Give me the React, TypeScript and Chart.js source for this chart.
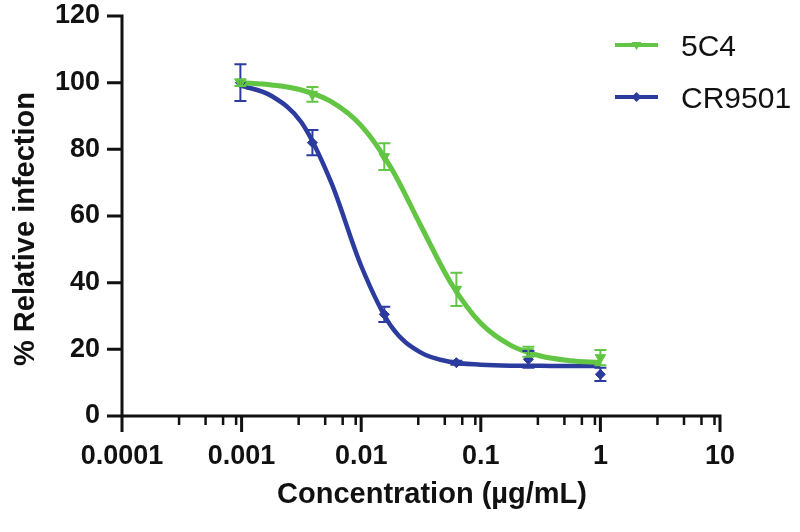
import React, { useEffect, useRef } from 'react';
import { Chart, registerables } from 'chart.js';

Chart.register(...registerables);

// ---- data ----
const concentrations = [0.000977, 0.00391, 0.0156, 0.0625, 0.25, 1];
const mean5C4 = [100, 96.5, 77.8, 38, 19.3, 17.5];
const err5C4 = [1, 2.2, 4, 5, 1.5, 2.3];
const meanCR9501 = [100, 82, 30.5, 16, 17, 12.5];
const errCR9501 = [5.5, 3.8, 2.3, 0.6, 2.5, 2];

// fitted curves
const curveX = [0.000977, 0.00178, 0.00316, 0.00562, 0.01, 0.0178, 0.0316, 0.0562, 0.1, 0.178, 0.316, 0.562, 1];
const curve5C4 = [100, 99.3, 97.8, 94.3, 87.1, 74.4, 57.0, 39.9, 27.8, 21.2, 18.0, 16.6, 16.0];
const curveCR9501 = [99.2, 96, 88.1, 70, 45, 26.9, 19, 16.2, 15.4, 15.1, 15.05, 15, 15];

const xTickValues = [0.0001, 0.001, 0.01, 0.1, 1, 10];
const xTickLabels = ['0.0001', '0.001', '0.01', '0.1', '1', '10'];
const xMinorMultipliers = [3, 5, 7, 9];
const yTickValues = [0, 20, 40, 60, 80, 100, 120];

const seriesNames = ['5C4', 'CR9501'];
const seriesColors = ['#62C544', '#2C3B9E'];
const xTitle = 'Concentration (µg/mL)';
const yTitle = '% Relative infection';

const FONT = '"Liberation Sans", Arial, Helvetica, sans-serif';

const toXY = (xs: number[], ys: number[]) => xs.map((x, i) => ({ x, y: ys[i] }));

const axesPlugin = {
  id: 'prismAxes',
  afterDraw(chart: any) {
    const { ctx, chartArea } = chart;
    const xs = chart.scales.x;
    const ys = chart.scales.y;
    const { left, right, top, bottom } = chartArea;
    ctx.save();
    ctx.strokeStyle = '#111';
    ctx.lineCap = 'butt';
    ctx.lineWidth = 3;
    ctx.beginPath();
    ctx.moveTo(left, top - 1.5);
    ctx.lineTo(left, bottom + 1.5);
    ctx.moveTo(left - 1.5, bottom);
    ctx.lineTo(right + 1.5, bottom);
    yTickValues.forEach((v) => {
      const y = ys.getPixelForValue(v);
      ctx.moveTo(left - 15, y);
      ctx.lineTo(left, y);
    });
    xTickValues.forEach((v) => {
      const x = xs.getPixelForValue(v);
      ctx.moveTo(x, bottom);
      ctx.lineTo(x, bottom + 16);
    });
    ctx.stroke();
    ctx.lineWidth = 2.5;
    ctx.beginPath();
    xTickValues.slice(0, -1).forEach((d) => {
      xMinorMultipliers.forEach((m) => {
        const x = xs.getPixelForValue(d * m);
        ctx.moveTo(x, bottom);
        ctx.lineTo(x, bottom + 9);
      });
    });
    ctx.stroke();

    // axis titles
    ctx.fillStyle = '#111';
    ctx.font = `bold 29px ${FONT}`;
    ctx.textAlign = 'center';
    ctx.textBaseline = 'middle';
    ctx.fillText(xTitle, (left + right) / 2 + 11, 495);
    ctx.translate(25.5, (top + bottom) / 2 + 13);
    ctx.rotate(-Math.PI / 2);
    ctx.fillText(yTitle, 0, 0);
    ctx.restore();
  },
};

const errorBarPlugin = {
  id: 'errorBars',
  afterDatasetsDraw(chart: any) {
    const { ctx } = chart;
    const xs = chart.scales.x;
    const ys = chart.scales.y;
    const sets = [
      { mean: meanCR9501, err: errCR9501, color: seriesColors[1] },
      { mean: mean5C4, err: err5C4, color: seriesColors[0] },
    ];
    ctx.save();
    sets.forEach((s) => {
      ctx.strokeStyle = s.color;
      ctx.lineWidth = 2;
      ctx.beginPath();
      concentrations.forEach((c, i) => {
        const x = xs.getPixelForValue(c);
        const yTop = ys.getPixelForValue(s.mean[i] + s.err[i]);
        const yBot = ys.getPixelForValue(s.mean[i] - s.err[i]);
        ctx.moveTo(x, yTop);
        ctx.lineTo(x, yBot);
        ctx.moveTo(x - 6, yTop);
        ctx.lineTo(x + 6, yTop);
        ctx.moveTo(x - 6, yBot);
        ctx.lineTo(x + 6, yBot);
      });
      ctx.stroke();
    });
    ctx.restore();
  },
};

const legendPlugin = {
  id: 'prismLegend',
  afterDraw(chart: any) {
    const { ctx } = chart;
    const rows = [45, 97];
    ctx.save();
    seriesNames.forEach((name, i) => {
      const y = rows[i];
      const color = seriesColors[i];
      ctx.strokeStyle = color;
      ctx.fillStyle = color;
      ctx.lineWidth = 4;
      ctx.beginPath();
      ctx.moveTo(615, y);
      ctx.lineTo(658, y);
      ctx.stroke();
      ctx.beginPath();
      const cx = 636.5;
      if (i === 0) {
        ctx.moveTo(cx - 5, y - 3);
        ctx.lineTo(cx + 5, y - 3);
        ctx.lineTo(cx, y + 5);
      } else {
        ctx.moveTo(cx, y - 5);
        ctx.lineTo(cx + 5, y);
        ctx.lineTo(cx, y + 5);
        ctx.lineTo(cx - 5, y);
      }
      ctx.closePath();
      ctx.fill();
      ctx.fillStyle = '#111';
      ctx.font = `30px ${FONT}`;
      ctx.textAlign = 'left';
      ctx.textBaseline = 'middle';
      ctx.fillText(name, 681, y + 3);
    });
    ctx.restore();
  },
};

export default function App() {
  const canvasRef = useRef<HTMLCanvasElement | null>(null);

  useEffect(() => {
    const canvas = canvasRef.current;
    if (!canvas) return;
    const chart = new Chart(canvas, {
      type: 'scatter',
      data: {
        datasets: [
          {
            label: seriesNames[0] + ' points',
            data: toXY(concentrations, mean5C4),
            showLine: false,
            pointStyle: 'triangle',
            rotation: 180,
            pointRadius: 6,
            backgroundColor: seriesColors[0],
            borderColor: seriesColors[0],
            borderWidth: 1,
          },
          {
            label: seriesNames[1] + ' points',
            data: toXY(concentrations, meanCR9501),
            showLine: false,
            pointStyle: 'rectRot',
            pointRadius: 5,
            backgroundColor: seriesColors[1],
            borderColor: seriesColors[1],
            borderWidth: 1,
          },
          {
            label: seriesNames[0] + ' fit',
            data: toXY(curveX, curve5C4),
            showLine: true,
            pointRadius: 0,
            borderColor: seriesColors[0],
            borderWidth: 5,
            cubicInterpolationMode: 'monotone',
            fill: false,
          },
          {
            label: seriesNames[1] + ' fit',
            data: toXY(curveX, curveCR9501),
            showLine: true,
            pointRadius: 0,
            borderColor: seriesColors[1],
            borderWidth: 4.5,
            cubicInterpolationMode: 'monotone',
            fill: false,
          },
        ],
      },
      options: {
        animation: false,
        responsive: false,
        devicePixelRatio: 1,
        layout: { padding: { left: 0, right: 80, top: 16, bottom: 0 } },
        plugins: {
          legend: { display: false },
          tooltip: { enabled: false },
          title: { display: false },
        },
        scales: {
          x: {
            type: 'logarithmic',
            min: 0.0001,
            max: 10,
            grid: { display: false, drawTicks: false },
            border: { display: false },
            afterBuildTicks: (scale: any) => {
              scale.ticks = xTickValues.map((v) => ({ value: v }));
            },
            afterFit: (scale: any) => {
              scale.height = 116;
              scale.paddingTop = 0;
              scale.paddingBottom = 0;
            },
            ticks: {
              autoSkip: false,
              maxRotation: 0,
              minRotation: 0,
              padding: 24,
              color: '#111',
              font: { family: FONT, size: 27, weight: 'bold' },
              callback: (value: any) => {
                const idx = xTickValues.findIndex((v) => Math.abs(v - value) / v < 1e-6);
                return idx >= 0 ? xTickLabels[idx] : '';
              },
            },
          },
          y: {
            type: 'linear',
            min: 0,
            max: 120,
            grid: { display: false, drawTicks: false },
            border: { display: false },
            afterBuildTicks: (scale: any) => {
              scale.ticks = yTickValues.map((v) => ({ value: v }));
            },
            afterFit: (scale: any) => {
              scale.width = 122;
              scale.paddingTop = 0;
              scale.paddingBottom = 0;
            },
            ticks: {
              padding: 22,
              color: '#111',
              font: { family: FONT, size: 27, weight: 'bold' },
            },
          },
        },
      } as any,
      plugins: [axesPlugin, errorBarPlugin, legendPlugin],
    });
    return () => chart.destroy();
  }, []);

  return (
    <div style={{ position: 'fixed', left: 0, top: 0, width: 800, height: 532, background: '#fff' }}>
      <canvas ref={canvasRef} width={800} height={532} style={{ display: 'block' }} />
    </div>
  );
}
